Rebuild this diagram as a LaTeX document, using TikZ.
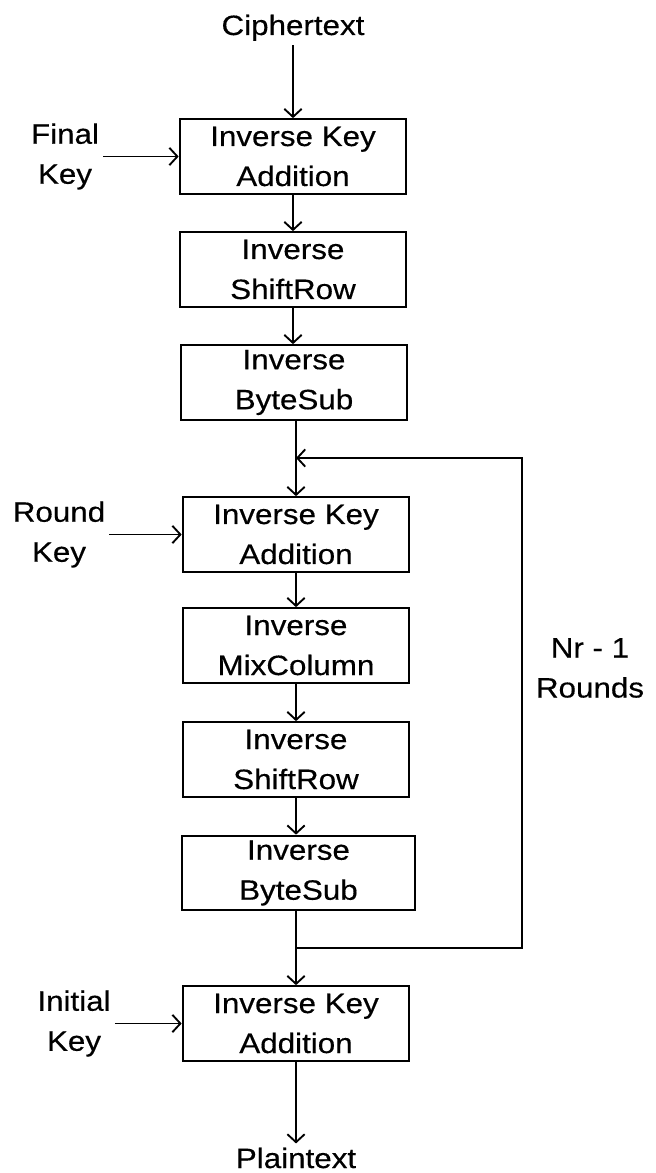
\documentclass[tikz,border=0pt]{standalone}
\usepackage{fontspec}
\setmainfont[FakeStretch=1.12,FakeBold=0.4]{Liberation Sans}
\usepackage{xcolor}
\usetikzlibrary{arrows.meta}
\definecolor{ink}{HTML}{000000}
\tikzset{
  box/.style={draw=ink, line width=1.5pt, minimum width=170pt, minimum height=56pt, inner sep=0pt, align=center, text=ink, font=\fontsize{21}{30}\selectfont},
  lab/.style={text=ink, align=center, inner sep=3pt, font=\fontsize{21}{30}\selectfont},
  link/.style={draw=ink, line width=1.4pt, -{Straight Barb[length=6pt,width=13pt]}},
}

\begin{document}
\begin{tikzpicture}[x=0.75pt,y=-0.75pt]
  \useasboundingbox (0,0) rectangle (656,1173);
  % first round
  \node[lab, anchor=base] (ct) at (293,35) {Ciphertext};
  \node[box] (ika1) at (293,156.5) {Inverse Key\\Addition};
  \node[box] (isr1) at (293,269.5) {Inverse\\ShiftRow};
  \node[box] (ibs1) at (294,382.5) {Inverse\\ByteSub};
  \node[lab] (fk) at (65,156.5) {Final\\Key};
  % repeated rounds
  \node[box] (ika2) at (296,534.5) {Inverse Key\\Addition};
  \node[box] (imc) at (296,645.5) {Inverse\\MixColumn};
  \node[box] (isr2) at (296,759.5) {Inverse\\ShiftRow};
  \node[box, minimum width=175pt] (ibs2) at (298.5,873) {Inverse\\ByteSub};
  \node[lab] (rk) at (59,534.5) {Round\\Key};
  \node[lab] (nr) at (590,668) {Nr - 1\\Rounds};
  % last step
  \node[box] (ika3) at (296,1023.5) {Inverse Key\\Addition};
  \node[lab] (ik) at (74,1023.5) {Initial\\Key};
  \node[lab, anchor=base] (pt) at (296,1168) {Plaintext};
  \coordinate (jhi) at (296,458);
  \coordinate (jlo) at (296,948);

  \draw[link] (ct) -- (ika1);
  \draw[link] (ika1) -- (isr1);
  \draw[link] (isr1.south) -- (isr1.south |- ibs1.north);
  \draw[link] (ibs1.south -| ika2) -- (ika2);
  \draw[link] (ika2) -- (imc);
  \draw[link] (imc) -- (isr2);
  \draw[link] (isr2) -- (isr2 |- ibs2.north);
  \draw[link] (ibs2.south -| ika3) -- (ika3);
  \draw[link] (ika3) -- (pt);
  \draw[link] (jlo) -- ++(226,0) |- (jhi);
  \draw[link] (fk.east) -- (ika1.west);
  \draw[link] (rk.east) -- (ika2.west);
  \draw[link] (ik.east) -- (ika3.west);
\end{tikzpicture}
\end{document}
